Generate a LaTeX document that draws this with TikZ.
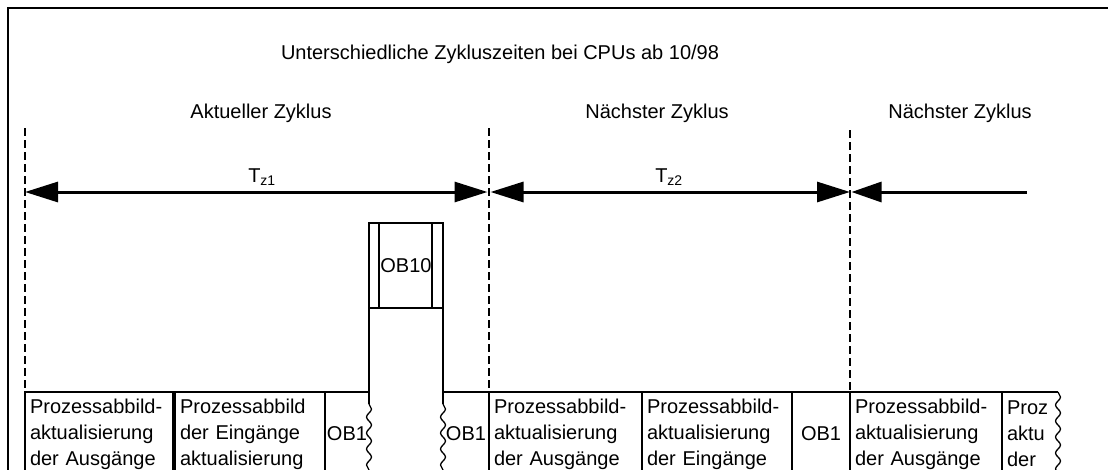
\documentclass[tikz,border=0pt]{standalone}
\usepackage{fontspec}
\setmainfont{Liberation Sans}
\usepackage{tikz}
\usetikzlibrary{arrows.meta,positioning,decorations.pathmorphing}

\begin{document}
\begin{tikzpicture}[x=1pt,y=-1pt,
    every node/.style={font=\fontsize{20}{26}\selectfont,outer sep=0pt},
    procbox/.style={rectangle,draw,line width=1.3pt,
      minimum height=84pt,inner xsep=5pt,inner ysep=0pt,
      align=left,text width=#1},
    obbox/.style={rectangle,minimum height=84pt,
      minimum width=#1,inner sep=0pt,align=center},
    cyclesep/.style={line width=1.4pt,dash pattern=on 8pt off 4pt},
    boxline/.style={line width=1.3pt},
    breakline/.style={line width=1.3pt,decorate,
      decoration={snake,amplitude=2.5pt,segment length=16pt}},
    tzarrow/.style={line width=3pt,
      {Triangle[length=33pt,width=20pt]}-{Triangle[length=33pt,width=20pt]}}]
  \useasboundingbox (0,0) rectangle (1108,469);
  \clip (0,0) rectangle (1108,469);
  % frame
  \draw[line width=2pt] (8,480) -- (8,8) -- (1120,8);

  % headings
  \node (titel) at (500,54) {Unterschiedliche Zykluszeiten bei CPUs ab 10/98};
  \node (akt)   at (261,113) {Aktueller Zyklus};
  \node (next1) at (657,113) {Nächster Zyklus};
  \node (next2) at (960,113) {Nächster Zyklus};

  % process image / OB1 row
  \node[procbox=138pt,anchor=north west] (pa1) at (25,392)
    {Prozessabbild-\\aktualisierung\\der Ausgänge};
  \node[procbox=140pt,right=2pt of pa1] (pe1)
    {Prozessabbild\\der Eingänge\\aktualisierung};
  \node[obbox=44pt,right=0pt of pe1] (ob1a) {OB1};
  \node[rectangle,draw,line width=1.3pt,minimum width=74pt,
        minimum height=85pt,inner sep=0pt,
        above right=84pt and 0pt of ob1a.north east] (ob10) {OB10};
  \node[obbox=46pt,right=74pt of ob1a] (ob1b) {OB1};
  \node[procbox=143pt,right=0pt of ob1b] (pa2)
    {Prozessabbild-\\aktualisierung\\der Ausgänge};
  \node[procbox=140pt,right=0pt of pa2] (pe2)
    {Prozessabbild-\\aktualisierung\\der Eingänge};
  \node[procbox=48pt,align=center,right=0pt of pe2] (ob1c) {OB1};
  \node[procbox=142pt,right=0pt of ob1c] (pa3)
    {Prozessabbild-\\aktualisierung\\der Ausgänge};
  \node[procbox=46pt,draw=none,right=0pt of pa3] (pa4)
    {Proz\\aktu\\der};

  % OB10 interrupts OB1
  \draw[boxline] ([xshift=10pt]ob10.north west) -- ([xshift=10pt]ob10.south west);
  \draw[boxline] ([xshift=-11pt]ob10.north east) -- ([xshift=-11pt]ob10.south east);
  \coordinate (bl) at ([yshift=-12pt]ob1a.north east);
  \coordinate (br) at ([yshift=-12pt]ob1b.north west);
  \draw[boxline] (pe1.north east) -- (ob1a.north east);
  \draw[boxline] (ob1b.north west) -- (ob1b.north east);
  \draw[boxline] (ob10.south west) -- (bl);
  \draw[breakline] (bl) -- (ob1a.south east);
  \draw[boxline] (ob10.south east) -- (br);
  \draw[breakline] (br) -- (ob1b.south west);
  \draw[boxline] (pa4.north west) -- (pa4.north east);
  \draw[breakline] (pa4.north east) -- (pa4.south east);

  % cycle borders
  \coordinate (d0) at (25,128);
  \coordinate (d1) at (489,128);
  \coordinate (d2) at (850,130);
  \draw[cyclesep] (d0) -- (pa1.north west);
  \draw[cyclesep] (d1) -- (pa2.north west);
  \draw[cyclesep] (d2) -- (pa3.north west);

  % cycle times
  \coordinate (t0) at (25,192);
  \coordinate (t1) at (489,192);
  \coordinate (t2) at (850,192);
  \coordinate (t3) at (1027,192);
  \draw[tzarrow,shorten >=1.5pt] (t0) -- (t1);
  \draw[tzarrow,shorten <=1.5pt] (t1) -- (t2);
  \draw[line width=3pt,{Triangle[length=30pt,width=20pt]}-,shorten <=1.5pt] (t2) -- (t3);
  \node (tz1) at (262,177) {T\textsubscript{z1}};
  \node (tz2) at (669,177) {T\textsubscript{z2}};
\end{tikzpicture}
\end{document}
